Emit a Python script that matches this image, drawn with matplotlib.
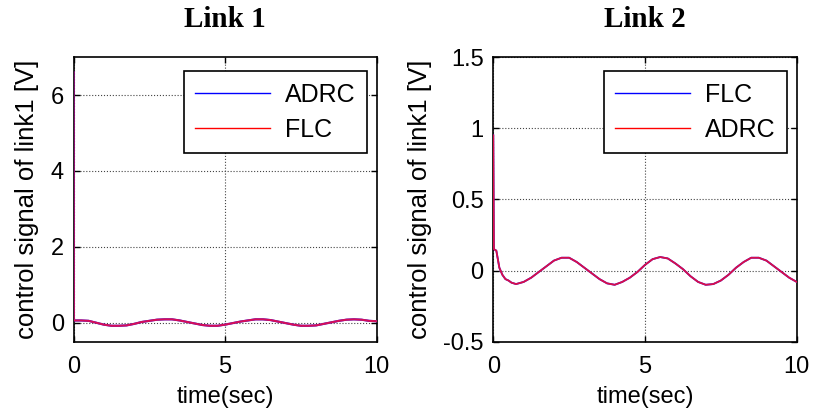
import numpy as np
import matplotlib.pyplot as plt

# Link 1 control signal (both controllers overlap)
t1 = [0, 0.01, 0.25, 0.5, 0.75, 1.0, 1.25, 1.5, 1.75, 2.0, 2.25, 2.5, 2.75,
      3.0, 3.25, 3.5, 3.75, 4.0, 4.25, 4.5, 4.75, 5.0, 5.25, 5.5, 5.75, 6.0,
      6.25, 6.5, 6.75, 7.0, 7.25, 7.5, 7.75, 8.0, 8.25, 8.5, 8.75, 9.0, 9.25,
      9.5, 9.75, 10.0]
u1_adrc = [6.6, 0.06, 0.06, 0.05, 0.0, -0.05, -0.08, -0.08, -0.07, -0.03, 0.02,
           0.05, 0.08, 0.09, 0.09, 0.06, 0.02, -0.02, -0.06, -0.08, -0.08, -0.05,
           -0.01, 0.03, 0.06, 0.09, 0.09, 0.07, 0.03, -0.01, -0.05, -0.08, -0.08,
           -0.07, -0.03, 0.01, 0.05, 0.08, 0.09, 0.08, 0.05, 0.04]
u1_flc = u1_adrc

# Link 2 control signal
t2 = [0, 0.02, 0.1, 0.15, 0.2, 0.3, 0.4, 0.5, 0.6, 0.75, 1.0, 1.25, 1.5, 1.75,
      2.0, 2.25, 2.5, 2.75, 3.0, 3.25, 3.5, 3.75, 4.0, 4.25, 4.5, 4.75, 5.0,
      5.25, 5.5, 5.75, 6.0, 6.25, 6.5, 6.75, 7.0, 7.25, 7.5, 7.75, 8.0, 8.25,
      8.5, 8.75, 9.0, 9.25, 9.5, 9.75, 10.0]
u2_flc = [0.95, 0.15, 0.14, 0.08, 0.02, -0.03, -0.06, -0.07, -0.085, -0.095,
          -0.08, -0.05, -0.01, 0.03, 0.07, 0.09, 0.09, 0.06, 0.02, -0.02, -0.06,
          -0.09, -0.10, -0.08, -0.05, -0.01, 0.04, 0.08, 0.095, 0.085, 0.05, 0.01,
          -0.04, -0.08, -0.10, -0.095, -0.07, -0.03, 0.02, 0.06, 0.09, 0.09, 0.07,
          0.03, -0.01, -0.05, -0.08]
u2_adrc = u2_flc

titles = ["Link 1", "Link 2"]
ylims = [(-0.5, 7), (-0.5, 1.5)]
yticks = [[0, 2, 4, 6], [-0.5, 0, 0.5, 1, 1.5]]

plt.rcParams['font.family'] = ['Liberation Sans', 'DejaVu Sans']

fig = plt.figure(figsize=(8.14, 4.18), dpi=100)
ax1 = fig.add_axes([0.0903, 0.1825, 0.3725, 0.681])
ax2 = fig.add_axes([0.606, 0.1825, 0.3728, 0.681])


def style_axes(ax, i):
    ax.set_xlim(0, 10)
    ax.set_ylim(*ylims[i])
    ax.set_xticks([0, 5, 10])
    ax.set_yticks(yticks[i])
    ax.set_yticklabels([f"{v:g}" for v in yticks[i]])
    ax.tick_params(direction='in', length=4, width=1, top=True, right=True,
                   labelsize=17)
    ax.tick_params(axis='x', pad=10)
    ax.tick_params(axis='y', pad=7)
    ax.grid(True, color='#444444', linestyle=':', linewidth=0.8)
    for s in ax.spines.values():
        s.set_linewidth(1.2)
    ax.set_title(titles[i], fontsize=21, fontweight='bold',
                 family='Liberation Serif', pad=22)
    ax.set_xlabel("time(sec)", fontsize=17, labelpad=6)
    ax.set_ylabel("control signal of link1 [V]", fontsize=18.5, labelpad=8)


ax1.plot(t1, u1_adrc, color='blue', lw=1.5, label='ADRC', zorder=3)
ax1.plot(t1, u1_flc, color='#e8104a', lw=1.5, alpha=0.92, label='FLC', zorder=3)
ax2.plot(t2, u2_flc, color='blue', lw=1.3, label='FLC', zorder=3)
ax2.plot(t2, u2_adrc, color='#ee1038', lw=1.3, alpha=0.92, label='ADRC', zorder=3)

for i, ax in enumerate([ax1, ax2]):
    style_axes(ax, i)
    leg = ax.legend(loc='upper right', bbox_to_anchor=(0.967, 0.95),
                    fontsize=18, fancybox=False, framealpha=1,
                    edgecolor='black', handlelength=3.0, handletextpad=0.6,
                    borderpad=0.45, labelspacing=0.45, borderaxespad=0)
    leg.get_frame().set_linewidth(1.2)
    leg.set_zorder(5)
    for h in leg.get_lines():
        h.set_linewidth(1.0)
        h.set_alpha(1)
    leg.get_lines()[1].set_color('red')

fig.savefig("out.png", dpi=100)
